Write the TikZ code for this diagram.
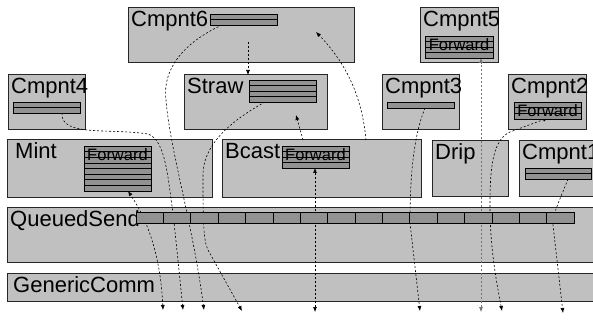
\documentclass[tikz,border=0pt]{standalone}
\usepackage{fontspec}
\setmainfont{Liberation Sans}
\usetikzlibrary{arrows.meta}
\definecolor{compfill}{RGB}{192,192,192}
\definecolor{qfill}{RGB}{146,146,146}
\newcommand\myqueue[7]{% name, x, y, w, h, line list, text
  \node[qbox, minimum width=#4pt, minimum height=#5pt, anchor=north west] (#1) at (#2,#3) {};
  \node[fwd] (#1t) at (#2+#4/2,#3+14.5) {#7};
  \foreach \yy in {#6} {\draw[qline] (#2,\yy) -- (#2+#4,\yy);}
  \draw[qline] (#1.north west) rectangle (#1.south east);
}
\newcommand\mycomp[6]{% name, x1, y1, x2, y2, label
  \node[comp, minimum width=#4pt-#2pt, minimum height=#5pt-#3pt, anchor=north west] (#1) at (#2,#3) {};
  \node[lbl] (#1l) at (#2+3,#3+19) {#6};
}
\begin{document}
\begin{tikzpicture}[x=1pt,y=-1pt,
  comp/.style={draw=black!85, line width=1pt, fill=compfill, inner sep=0pt, outer sep=0pt},
  qbox/.style={fill=qfill, draw=none, inner sep=0pt, outer sep=0pt},
  qline/.style={draw=black, line width=0.7pt},
  lbl/.style={anchor=base west, inner sep=0pt, font=\fontsize{22}{22}\selectfont},
  fwd/.style={anchor=base, inner sep=0pt, font=\fontsize{16.5}{16.5}\selectfont},
  conn/.style={line width=0.6pt, dash pattern=on 2pt off 2pt, -{Latex[length=5pt,width=4pt]}},
  bconn/.style={conn, {Latex[length=5pt,width=4pt]}-{Latex[length=5pt,width=4pt]}}]
\useasboundingbox (0,0) rectangle (593,320);
\clip (0,0) rectangle (593,320);
\fill[white] (0,0) rectangle (593,320);
% components
\mycomp{cmp6}{128}{8}{354}{63}{Cmpnt6}
\mycomp{cmp5}{420}{8}{498}{63}{Cmpnt5}
\mycomp{cmp4}{8}{75}{85}{130}{Cmpnt4}
\mycomp{straw}{184}{75}{327}{130}{Straw}
\mycomp{cmp3}{382}{75}{459}{130}{Cmpnt3}
\mycomp{cmp2}{508}{75}{586}{130}{Cmpnt2}
\mycomp{mint}{7}{140}{212}{197}{\hspace{5pt}Mint}
\mycomp{bcast}{222}{140}{421}{197}{Bcast}
\mycomp{drip}{432}{141}{508}{196}{Drip}
\mycomp{cmp1}{519}{141}{600}{196}{Cmpnt1}
\mycomp{qsend}{7}{207}{600}{262}{QueuedSend}
\mycomp{gcomm}{7}{273}{600}{301}{\hspace{3pt}GenericComm}
% free ends
\coordinate (b1) at (163,310);
\coordinate (b2) at (183,310);
\coordinate (b3) at (204,310);
\coordinate (b4) at (242,311);
\coordinate (b5) at (315,312);
\coordinate (b6) at (420,311);
\coordinate (b7) at (481,312);
\coordinate (b8) at (502,311);
\coordinate (b9) at (563,313);
% connectors
\draw[bconn] (b1) .. controls (160,245) and (142,212) .. (128,191);
\draw[conn] (62,113) .. controls (60,137) and (110,128) .. (148,134)
  .. controls (166,140) and (168,180) .. (173,213) .. controls (177,250) and (180,280) .. (b2);
\draw[conn] (222,25) .. controls (185,42) and (162,68) .. (166,100)
  .. controls (170,150) and (192,220) .. (b3);
\draw[conn] (265,102) .. controls (240,116) and (203,140) .. (203,175)
  .. controls (203,215) and (203,240) .. (208,250) -- (b4);
\draw[conn] (248,42) -- (248,75);
\draw[conn] (303,140) -- (296,115);
\draw[conn] (366,140) .. controls (362,95) and (345,62) .. (316,32);
\draw[bconn] (b5) -- (315,168);
\draw[conn] (425,108) .. controls (412,140) and (410,185) .. (410,223) -- (b6);
\draw[bconn, draw=black!55] (b7) -- (481,58);
\draw[bconn] (b8) .. controls (494,270) and (490,240) .. (490,205)
  .. controls (490,170) and (492,140) .. (510,132) -- (548,118);
\draw[conn] (568,179) .. controls (560,200) and (553,212) .. (553,225) -- (b9);
% queues
\myqueue{q6}{210}{14}{67}{11}{19.5}{}
\myqueue{q5}{425}{36}{68}{22}{41.5,47,52.5}{Forward}
\myqueue{q4}{13}{102}{67}{11}{107.5}{}
\myqueue{qs}{249}{80}{67}{22}{85.5,91,96.5}{}
\myqueue{q3}{387}{102}{67}{6}{102}{}
\myqueue{q2}{514}{102}{67}{17}{107.5,113}{Forward}
\myqueue{qm}{84}{146}{67}{45}{151.6,157.2,162.9,168.5,174.1,179.8,185.4}{Forward}
\myqueue{qb}{282}{146}{67}{22}{151.5,157,162.5}{Forward}
\myqueue{q1}{525}{168}{66}{11}{173.5}{}
% QueuedSend queue
\node[qbox, minimum width=438pt, minimum height=11pt, anchor=north west] (qq) at (136,212) {};
\foreach \k in {1,...,15} {\draw[qline] (136+\k*27.375,212) -- (136+\k*27.375,223);}
\draw[qline] (qq.north west) rectangle (qq.south east);
\end{tikzpicture}
\end{document}
